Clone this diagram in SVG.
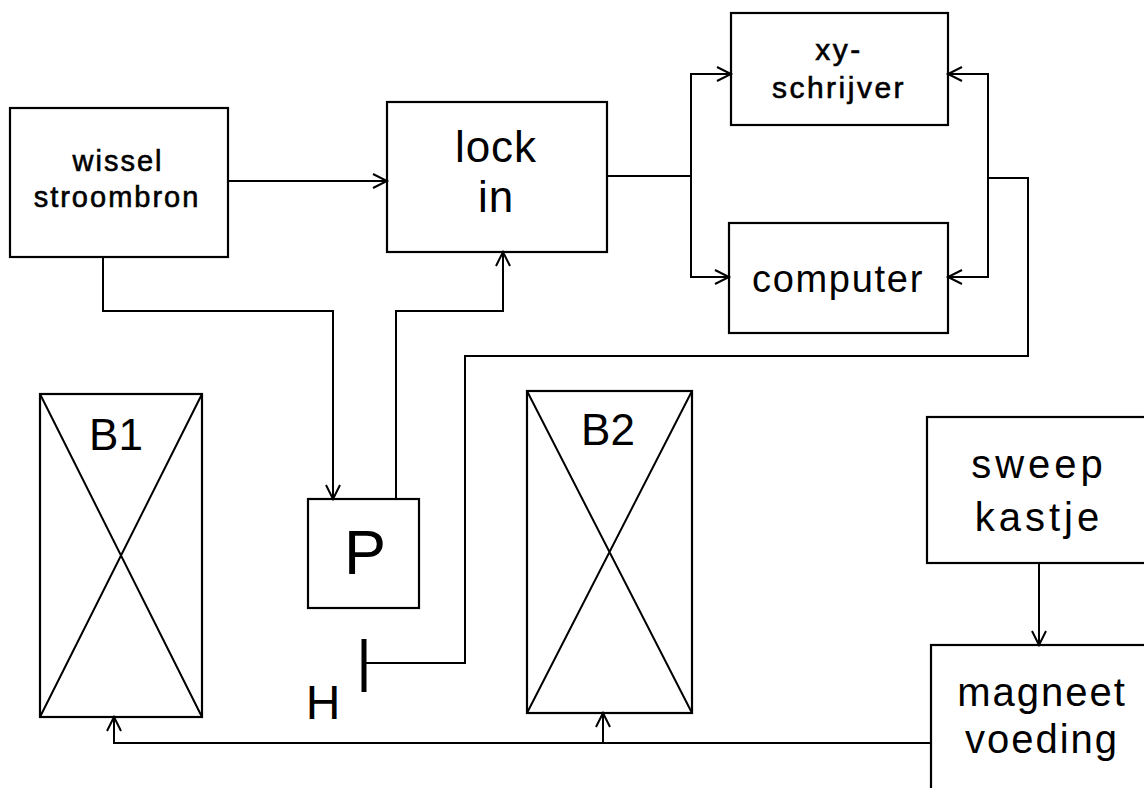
<svg xmlns="http://www.w3.org/2000/svg" width="1144" height="788" viewBox="0 0 1144 788">
<style>
.box{fill:none;stroke:#000;stroke-width:2.2}
.ln{fill:none;stroke:#000;stroke-width:2}
.t{font-family:"Liberation Sans",Arial,sans-serif;fill:#000;text-anchor:middle}
.s{stroke:#000;stroke-width:0.6}
</style>
<defs>
<marker id="arr" viewBox="0 0 14 14" refX="14" refY="7" markerWidth="14" markerHeight="14" markerUnits="userSpaceOnUse" orient="auto" overflow="visible">
<path d="M0,0 L14,7 L0,14" fill="none" stroke="#000" stroke-width="2"/>
</marker>
</defs>
<rect width="1144" height="788" fill="#fff"/>
<g id="wissel">
<rect class="box" x="10" y="108" width="218" height="149"/>
<text class="t s" x="118" y="171" font-size="29" letter-spacing="2">wissel</text>
<text class="t s" x="117" y="207" font-size="29" letter-spacing="2">stroombron</text>
</g>
<g id="lockin">
<rect class="box" x="387" y="102" width="220" height="150"/>
<text class="t" x="496" y="162" font-size="44" letter-spacing="1">lock</text>
<text class="t" x="496" y="212" font-size="44" letter-spacing="1">in</text>
</g>
<g id="xy">
<rect class="box" x="731" y="13" width="217" height="112"/>
<text class="t s" x="839" y="60" font-size="30" letter-spacing="2.5">xy-</text>
<text class="t s" x="839" y="98" font-size="30" letter-spacing="2.5">schrijver</text>
</g>
<g id="computer">
<rect class="box" x="729" y="223" width="219" height="110"/>
<text class="t" x="838" y="292" font-size="38" letter-spacing="1.7">computer</text>
</g>
<g id="P">
<rect class="box" x="308" y="499" width="111" height="109"/>
<text class="t" x="365" y="574" font-size="63">P</text>
</g>
<g id="B1">
<rect class="box" x="40" y="394" width="162" height="323"/>
<path class="ln" d="M40,394 L202,717 M202,394 L40,717"/>
<text class="t" x="116" y="450" font-size="44">B1</text>
</g>
<g id="B2">
<rect class="box" x="527" y="391" width="165" height="322"/>
<path class="ln" d="M527,391 L692,713 M692,391 L527,713"/>
<text class="t" x="608" y="445" font-size="44">B2</text>
</g>
<g id="H">
<line x1="364" y1="639" x2="364" y2="692" stroke="#000" stroke-width="5"/>
<text class="t" x="323" y="719" font-size="48">H</text>
</g>
<g id="sweep">
<rect class="box" x="927" y="417" width="230" height="146"/>
<text class="t" x="1039" y="478" font-size="40" letter-spacing="4">sweep</text>
<text class="t" x="1039" y="531" font-size="40" letter-spacing="4">kastje</text>
</g>
<g id="magneet">
<rect class="box" x="931" y="645" width="230" height="160"/>
<text class="t" x="1042" y="706" font-size="40" letter-spacing="2">magneet</text>
<text class="t" x="1042" y="753" font-size="40" letter-spacing="2">voeding</text>
</g>
<g id="connectors">
<path class="ln" d="M228,181 H387" marker-end="url(#arr)"/>
<path class="ln" d="M103,257 V311 H333 V499" marker-end="url(#arr)"/>
<path class="ln" d="M396,499 V311 H503 V252" marker-end="url(#arr)"/>
<path class="ln" d="M607,176 H691"/>
<path class="ln" d="M691,176 V74 H731" marker-end="url(#arr)"/>
<path class="ln" d="M691,176 V277 H729" marker-end="url(#arr)"/>
<path class="ln" d="M988,178 V74 H948" marker-end="url(#arr)"/>
<path class="ln" d="M988,178 V277 H948" marker-end="url(#arr)"/>
<path class="ln" d="M988,178 H1028 V356 H465 V663 H364"/>
<path class="ln" d="M1039,563 V645" marker-end="url(#arr)"/>
<path class="ln" d="M931,743 H114 V717" marker-end="url(#arr)"/>
<path class="ln" d="M603,743 V713" marker-end="url(#arr)"/>
</g>
</svg>
